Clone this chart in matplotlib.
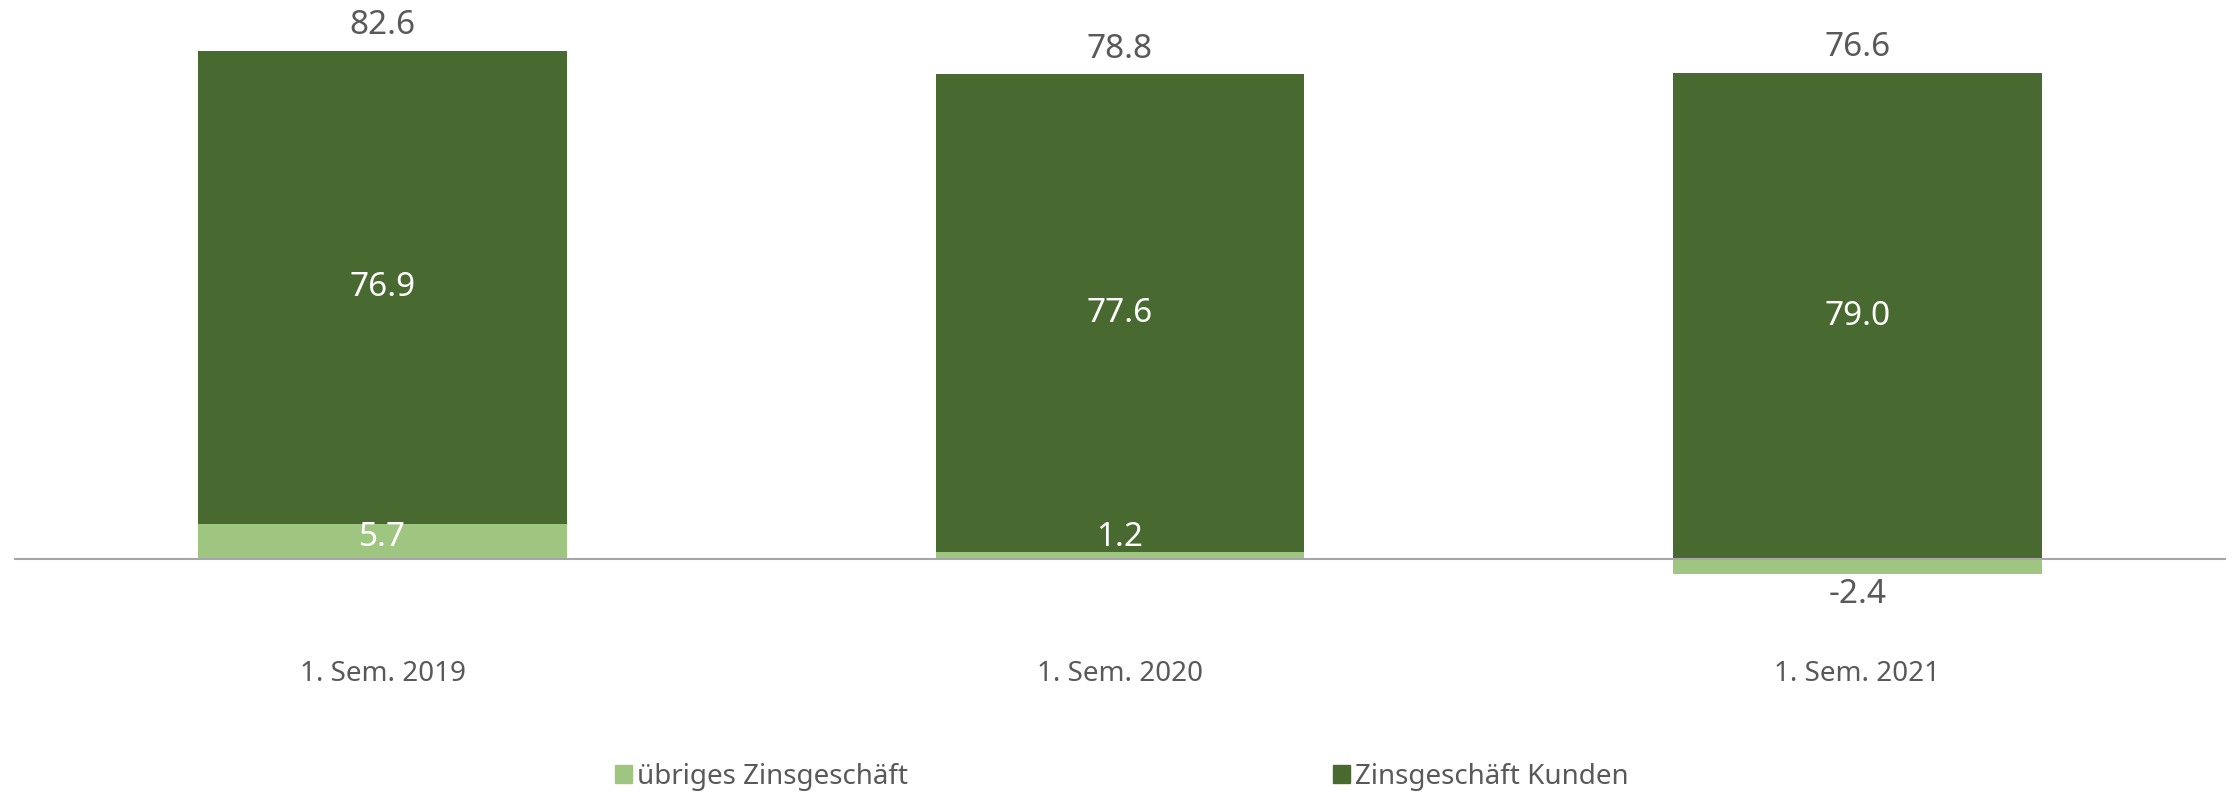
import matplotlib.pyplot as plt
from matplotlib.patches import Patch

# data
categories = ['1. Sem. 2019', '1. Sem. 2020', '1. Sem. 2021']
uebriges = [5.7, 1.2, -2.4]
kunden = [76.9, 77.6, 79.0]
totals = [82.6, 78.8, 76.6]

light = '#9FC680'
dark = '#48692F'
grey_text = '#595959'

plt.rcParams['font.family'] = ['Noto Sans', 'DejaVu Sans']

fig = plt.figure(figsize=(22.36, 7.93), dpi=100)
ax = fig.add_axes([14 / 2236, 1 - 621 / 793, 2212 / 2236, 616 / 793])

x = range(len(categories))
width = 0.5

# stacked bars: negative values start from zero, positive ones stack
bottoms = [max(v, 0) for v in uebriges]
ax.bar(x, uebriges, width, color=light, label='übriges Zinsgeschäft', zorder=2)
ax.bar(x, kunden, width, bottom=bottoms, color=dark, label='Zinsgeschäft Kunden', zorder=2)

ax.set_xlim(-0.5, 2.5)
ax.set_ylim(-10, 90)

# zero line
ax.axhline(0, color='#A6A6A6', lw=1.5, zorder=3)

# labels
for i in x:
    v = uebriges[i]
    if v >= 0:
        ax.text(i, max(v / 2, 3.6), f'{v:.1f}', ha='center', va='center',
                color='white', fontsize=24, zorder=4)
    else:
        ax.annotate(f'{v:.1f}', (i, v), xytext=(0, -3), textcoords='offset points',
                    ha='center', va='top', color=grey_text, fontsize=24)
    ax.text(i, bottoms[i] + kunden[i] / 2, f'{kunden[i]:.1f}', ha='center', va='center',
            color='white', fontsize=24, zorder=4)
    ax.annotate(f'{totals[i]:.1f}', (i, bottoms[i] + kunden[i]), xytext=(0, 6),
                textcoords='offset points', ha='center', va='bottom',
                color=grey_text, fontsize=24)

ax.set_xticks(list(x))
ax.set_xticklabels(categories)
ax.tick_params(axis='x', length=0, pad=28, labelsize=20, colors=grey_text)
ax.set_yticks([])
for s in ax.spines.values():
    s.set_visible(False)

handles = [Patch(color=light, label='übriges Zinsgeschäft'),
           Patch(color=dark, label='Zinsgeschäft Kunden')]
fig.legend(handles=handles, loc='center', bbox_to_anchor=(0.5 + 4 / 2236, 1 - 777 / 793),
           ncol=2, frameon=False, fontsize=20, handlelength=0.6, handleheight=0.6,
           handletextpad=0.2, columnspacing=15.3, labelcolor=grey_text)

fig.savefig('out.png', dpi=100)
